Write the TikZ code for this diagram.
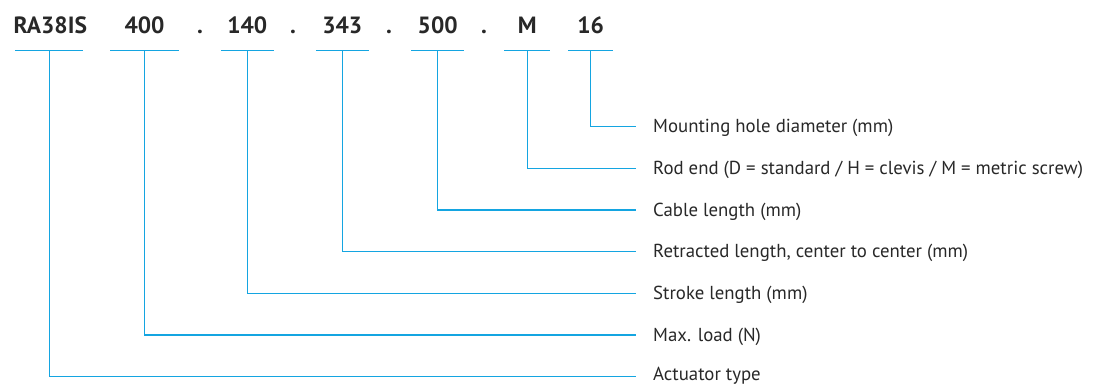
\documentclass[tikz,border=0pt]{standalone}
\usepackage{fontspec}
\setmainfont{PT Sans}
\usetikzlibrary{calc}
\definecolor{lineblue}{RGB}{20,165,225}
\definecolor{txt}{RGB}{40,40,40}
\begin{document}
\begin{tikzpicture}[x=1pt,y=-1pt,
  hdr/.style={anchor=base,inner sep=0pt,text=txt,font=\fontsize{23.5}{27}\selectfont\bfseries},
  lbl/.style={anchor=west,inner ysep=0pt,inner xsep=17pt,text height=12pt,text depth=0pt,text=txt,font=\fontsize{18.8}{22}\selectfont},
  conn/.style={draw=lineblue,line width=1.3pt},
]
\useasboundingbox (0,0) rectangle (1096,385);
% header
\node[hdr] (hRA) at (50.3,34) {RA38IS};
\node[hdr] (h400) at (144.5,34) {400};
\node[hdr] (d1) at (200,34) {.};
\node[hdr] (h140) at (247.3,34) {140};
\node[hdr] (d2) at (293,34) {.};
\node[hdr] (h343) at (342.3,34) {343};
\node[hdr] (d3) at (389,34) {.};
\node[hdr] (h500) at (437.7,34) {500};
\node[hdr] (d4) at (484,34) {.};
\node[hdr] (hM) at (527.3,34) {M};
\node[hdr] (h16) at (590.7,34) {16};
% underline coordinates
\coordinate (uRA) at (49.3,50.7);
\coordinate (u400) at (144.5,50.7);
\coordinate (u140) at (247.3,50.7);
\coordinate (u343) at (342.3,50.7);
\coordinate (u500) at (437.7,50.7);
\coordinate (uM) at (527.3,50.7);
\coordinate (u16) at (590.7,50.7);
% labels
\node[lbl] (l16) at (636,126.7) {Mounting hole diameter (mm)};
\node[lbl] (lM) at (636,168.4) {Rod end (D = standard / H = clevis / M = metric screw)};
\node[lbl] (l500) at (636,210.1) {Cable length (mm)};
\node[lbl] (l343) at (636,251.8) {Retracted length, center to center (mm)};
\node[lbl] (l140) at (636,293.4) {Stroke length (mm)};
\node[lbl] (l400) at (636,335.0) {Max. load (N)};
\node[lbl,text height=8pt] (lRA) at (636,376.7) {Actuator type};
% underlines
\draw[conn] ($(uRA)+(-34,0)$) -- ($(uRA)+(34,0)$);
\draw[conn] ($(u400)+(-34.5,0)$) -- ($(u400)+(34.5,0)$);
\draw[conn] ($(u140)+(-26.5,0)$) -- ($(u140)+(26.5,0)$);
\draw[conn] ($(u343)+(-26.5,0)$) -- ($(u343)+(26.5,0)$);
\draw[conn] ($(u500)+(-26.5,0)$) -- ($(u500)+(26.5,0)$);
\draw[conn] ($(uM)+(-23,0)$) -- ($(uM)+(23,0)$);
\draw[conn] ($(u16)+(-22.5,0)$) -- ($(u16)+(22.5,0)$);
% connectors
\draw[conn] (u16) |- (l16.west);
\draw[conn] (uM) |- (lM.west);
\draw[conn] (u500) |- (l500.west);
\draw[conn] (u343) |- (l343.west);
\draw[conn] (u140) |- (l140.west);
\draw[conn] (u400) |- (l400.west);
\draw[conn] (uRA) |- (lRA.west);
\end{tikzpicture}
\end{document}
